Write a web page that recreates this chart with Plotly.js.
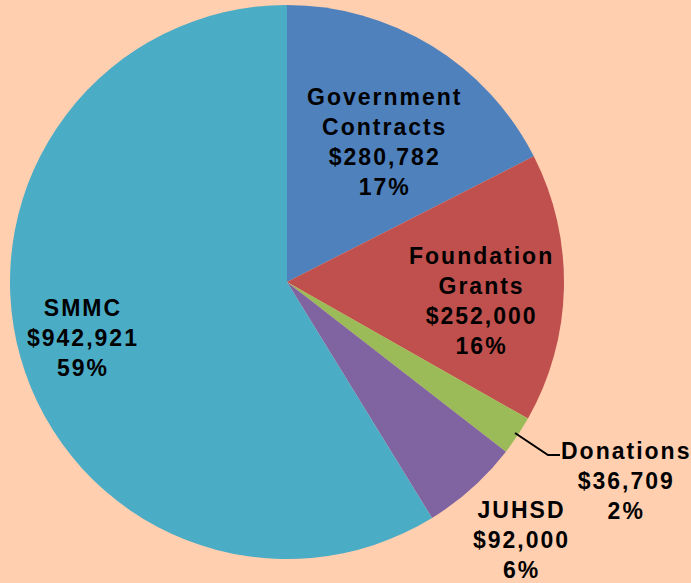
<!DOCTYPE html>
<html>
<head>
<meta charset="utf-8">
<script src="https://cdn.plot.ly/plotly-3.0.1.min.js"></script>
<style>
html,body{margin:0;padding:0;background:#FFCFB0;}
#chart{width:691px;height:583px;}
.annotation-text{letter-spacing:2px;}
</style>
</head>
<body>
<div id="chart"></div>
<script>
var labels = ["Government<br>Contracts", "Foundation<br>Grants", "Donations", "JUHSD", "SMMC"];
var values = [280782, 252000, 36709, 92000, 942921];
var percents = ["17%", "16%", "2%", "6%", "59%"];
var colors = ["#4F81BD", "#C0504D", "#9BBB59", "#8064A2", "#4BACC6"];
// label anchor positions (paper coords, centre of each text block)
var labelX = [0.557, 0.697, 0.906, 0.754, 0.120];
var labelY = [0.756, 0.484, 0.175, 0.073, 0.420];

function money(v){ return "$" + v.toLocaleString("en-US"); }

var annotations = labels.map(function(l, i){
  return {
    xref: "paper", yref: "paper",
    x: labelX[i], y: labelY[i],
    xanchor: "center", yanchor: "middle",
    text: "<b>" + l + "<br>" + money(values[i]) + "<br>" + percents[i] + "</b>",
    showarrow: false,
    align: "center",
    font: {family: "Liberation Sans, Arial, sans-serif", size: 23, color: "#000000"}
  };
});

var data = [{
  type: "pie",
  labels: labels,
  values: values,
  sort: false,
  direction: "clockwise",
  rotation: 0,
  textinfo: "none",
  hoverinfo: "skip",
  marker: {colors: colors, line: {width: 0}},
  domain: {x: [10/691, 564/691], y: [1 - 559/583, 1 - 5/583]},
  showlegend: false
}];

var layout = {
  width: 691, height: 583,
  margin: {l: 0, r: 0, t: 0, b: 0},
  paper_bgcolor: "#FFCFB0",
  plot_bgcolor: "#FFCFB0",
  showlegend: false,
  annotations: annotations,
  shapes: [{
    type: "path", xref: "paper", yref: "paper",
    path: "M " + (515/691) + "," + (1-433/583) + " L " + (548/691) + "," + (1-455/583) + " L " + (560/691) + "," + (1-455/583),
    line: {color: "#000000", width: 2}
  }]
};

Plotly.newPlot("chart", data, layout, {displayModeBar: false, staticPlot: true});
</script>
</body>
</html>
